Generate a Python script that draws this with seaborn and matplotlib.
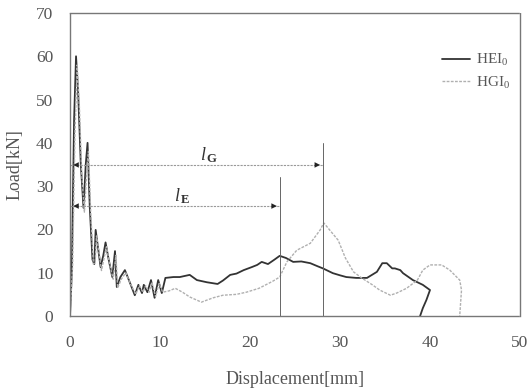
import matplotlib
matplotlib.use("Agg")
import matplotlib.pyplot as plt
import seaborn as sns
import numpy as np

# Load-displacement curves
hei_x = [0, 0.2, 0.45, 0.67, 0.9, 1.2, 1.5, 1.75, 1.95, 2.2, 2.5, 2.7, 2.85, 3.1, 3.4, 3.7,
         3.95, 4.3, 4.7, 5.0, 5.2, 5.6, 6.1, 6.6, 7.2, 7.6, 8.0, 8.2, 8.6, 9.0, 9.4, 9.8,
         10.2, 10.6, 11.5, 12.2, 13.3, 14.1, 15.2, 16.4, 17.0, 17.8, 18.5, 19.3, 20.2, 20.8,
         21.3, 22.0, 22.7, 23.3, 24.0, 24.8, 25.7, 26.7, 27.5, 28.1, 29.2, 30.0, 30.7, 31.8,
         33.0, 34.1, 34.7, 35.2, 35.8, 36.1, 36.7, 37.0, 38.1, 39.2, 40.0, 39.6, 39.2, 38.9]
hei_y = [0, 10, 45, 60, 52, 35, 25, 35, 40, 25, 13, 12, 19.9, 16, 11.3, 14,
         17, 13, 9, 15, 6.7, 9, 10.6, 8, 4.8, 7.2, 5.3, 7.2, 5.5, 8.3, 4.2, 8.3,
         5.3, 8.8, 9.0, 9.0, 9.5, 8.3, 7.8, 7.4, 8.2, 9.5, 9.8, 10.6, 11.3, 11.8,
         12.5, 12.0, 13.0, 13.9, 13.4, 12.5, 12.6, 12.2, 11.5, 11.0, 9.9, 9.4, 9.0, 8.8,
         8.8, 10.2, 12.2, 12.2, 11.0, 11.0, 10.6, 9.9, 8.3, 7.2, 6.0, 3.7, 1.8, 0]

hgi_x = [0, 0.3, 0.55, 0.8, 1.05, 1.3, 1.6, 1.85, 2.05, 2.3, 2.6, 2.8, 2.95, 3.2, 3.5, 3.8,
         4.05, 4.4, 4.8, 5.1, 5.3, 5.7, 6.2, 6.7, 7.3, 7.7, 8.1, 8.4, 8.8, 9.1, 9.5, 9.9,
         10.3, 11.0, 11.7, 12.5, 13.3, 14.6, 15.9, 17.0, 18.5, 19.6, 21.0, 22.5, 23.3, 24.1,
         25.2, 26.7, 27.8, 28.2, 29.0, 29.8, 30.6, 31.5, 32.4, 33.6, 34.4, 35.6, 36.3, 37.4,
         38.6, 39.2, 40.0, 41.3, 42.2, 43.3, 43.5, 43.4, 43.3]
hgi_y = [0, 12, 42, 58, 48, 33, 24, 33, 38, 24, 12, 12.5, 18.5, 15, 10.5, 13.5,
         16, 12, 8.5, 14, 6.5, 8.5, 10, 7.5, 5, 7, 5.5, 7, 5.5, 7.8, 4.5, 7.5,
         5.5, 5.8, 6.4, 5.5, 4.4, 3.2, 4.2, 4.8, 5.0, 5.5, 6.4, 8.0, 9.0, 12.5,
         15.2, 16.8, 19.9, 21.5, 19.5, 17.5, 13.4, 10.2, 8.8, 7.2, 6.0, 4.8, 5.3, 6.4,
         8.3, 10.6, 11.8, 11.8, 10.6, 8.3, 6.0, 3.0, 0]

# Characteristic lengths and arrow heights
l_e, l_e_level = 23.3, 25.4
l_g, l_g_level = 28.1, 34.9

x_ticks = [0, 10, 20, 30, 40, 50]
y_ticks = [0, 10, 20, 30, 40, 50, 60, 70]

sns.set_theme(style="white")
plt.rcParams["font.family"] = ["Liberation Serif", "DejaVu Serif"]
plt.rcParams["mathtext.fontset"] = "custom"
plt.rcParams["mathtext.rm"] = "Liberation Serif"
plt.rcParams["mathtext.it"] = "Liberation Serif:italic"
plt.rcParams["mathtext.bf"] = "Liberation Serif:bold"

fig = plt.figure(figsize=(5.28, 3.89), dpi=100)
ax = fig.add_axes([70 / 528, 1 - 316 / 389, 450 / 528, 303 / 389])

sns.lineplot(x=hei_x, y=hei_y, ax=ax, sort=False, estimator=None,
             color="#333333", linewidth=1.3, label="HEI$_0$")
sns.lineplot(x=hgi_x, y=hgi_y, ax=ax, sort=False, estimator=None,
             color="#b0b0b0", linewidth=1.0, linestyle=(0, (2, 1)), label="HGI$_0$")

# Vertical markers at the end of each length
ax.plot([l_e, l_e], [0, 32], color="#666666", lw=0.7)
ax.plot([l_g, l_g], [0, 40], color="#666666", lw=0.7)

# Dimension arrows
for end, lvl in [(l_g, l_g_level), (l_e, l_e_level)]:
    ax.plot([0, end], [lvl, lvl], color="#999999", lw=0.8, linestyle=(0, (2, 1)))
    ax.annotate("", xy=(0.05, lvl), xytext=(1.5, lvl),
                arrowprops=dict(arrowstyle="-|>", color="#222222", lw=0, mutation_scale=10))
    ax.annotate("", xy=(end, lvl), xytext=(end - 1.5, lvl),
                arrowprops=dict(arrowstyle="-|>", color="#222222", lw=0, mutation_scale=10))

ax.text(15.5, 36.0, r"$l_{\,\mathbf{G}}$", fontsize=13, color="#333333", ha="center", va="baseline")
ax.text(12.5, 26.4, r"$l_{\,\mathbf{E}}$", fontsize=13, color="#333333", ha="center", va="baseline")

ax.set_xlim(0, 50)
ax.set_ylim(0, 70)
ax.set_xticks(x_ticks)
ax.set_yticks(y_ticks)
ax.tick_params(axis="y", length=0, labelsize=12.5, labelcolor="#555555", pad=12)
ax.tick_params(axis="x", length=0, labelsize=12.5, labelcolor="#555555", pad=14)
ax.set_xlabel("Displacement[mm]", fontsize=13, color="#555555", labelpad=14)
ax.set_ylabel("Load[kN]", fontsize=13, color="#555555", labelpad=9)

for side, sp in ax.spines.items():
    sp.set_visible(True)
    sp.set_color("#777777")
    sp.set_linewidth(1.0)
    sp.set_linestyle((0, (2, 1)))

leg = ax.legend(loc="upper right", bbox_to_anchor=(0.978, 0.87), frameon=False,
                fontsize=11, handlelength=1.8, handletextpad=0.4, labelspacing=0.4,
                borderaxespad=0, borderpad=0)
for t in leg.get_texts():
    t.set_color("#555555")

fig.savefig("out.png", dpi=100)
